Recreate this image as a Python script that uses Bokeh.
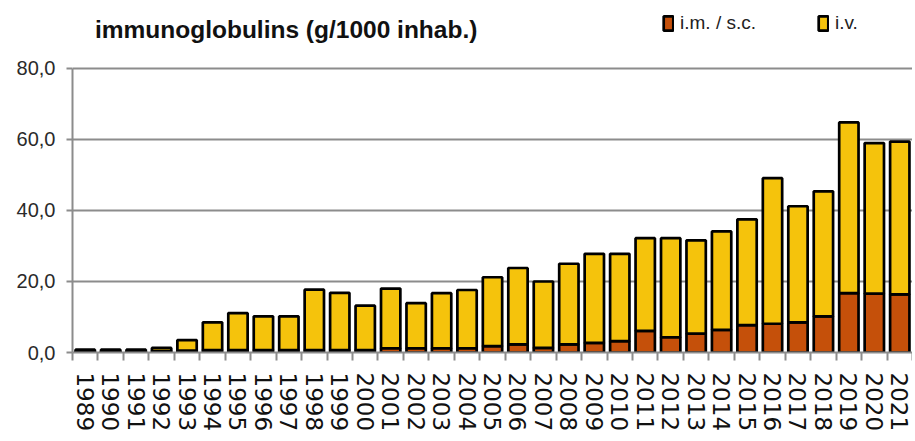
from bokeh.plotting import figure
from bokeh.models import FixedTicker, Range1d, Label, Legend, LegendItem, ColumnDataSource
from bokeh.embed import file_html
from bokeh.resources import INLINE

years = ["1989", "1990", "1991", "1992", "1993", "1994", "1995", "1996", "1997", "1998",
         "1999", "2000", "2001", "2002", "2003", "2004", "2005", "2006", "2007", "2008",
         "2009", "2010", "2011", "2012", "2013", "2014", "2015", "2016", "2017", "2018",
         "2019", "2020", "2021"]
im_sc = [0.3, 0.3, 0.3, 0.4, 0.5, 0.7, 0.7, 0.7, 0.7, 0.7,
         0.7, 0.7, 1.2, 1.2, 1.2, 1.2, 1.8, 2.3, 1.3, 2.3,
         2.7, 3.2, 6.1, 4.3, 5.3, 6.4, 7.7, 8.1, 8.5, 10.2,
         16.7, 16.6, 16.4]
iv = [0.5, 0.5, 0.5, 0.9, 3.0, 7.8, 10.4, 9.5, 9.5, 17.0,
      16.1, 12.5, 16.8, 12.7, 15.5, 16.4, 19.4, 21.5, 18.7, 22.7,
      25.1, 24.6, 26.1, 27.9, 26.3, 27.7, 29.8, 41.0, 32.7, 35.2,
      48.1, 42.4, 43.0]
y_ticks = [0, 20, 40, 60, 80]
y_tick_labels = ["0,0", "20,0", "40,0", "60,0", "80,0"]
title_text = "immunoglobulins (g/1000 inhab.)"
series_names = ["i.m. / s.c.", "i.v."]
colors = ["#C5500A", "#F5C30C"]

n = len(years)
pos = [i + 0.5 for i in range(n)]

p = figure(frame_width=840, frame_height=352, output_backend="svg", toolbar_location=None,
           x_range=Range1d(0, n), y_range=Range1d(0, 99.15),
           min_border_left=72, min_border_right=0, min_border_top=0, min_border_bottom=80)
p.outline_line_color = None
p.background_fill_color = "white"
p.border_fill_color = "white"

src = ColumnDataSource(dict(x=pos, im=im_sc, iv=iv))
rs = p.vbar_stack(["im", "iv"], x="x", width=0.76, color=colors, line_color="black",
                  line_width=2.7, source=src)

# axes
p.xgrid.grid_line_color = None
p.ygrid.grid_line_color = "#8c8c8c"
p.ygrid.grid_line_width = 2
p.ygrid.ticker = FixedTicker(ticks=y_ticks)

p.yaxis.ticker = FixedTicker(ticks=y_ticks)
p.yaxis.bounds = (0, 80)
p.yaxis.major_label_overrides = {t: l for t, l in zip(y_ticks, y_tick_labels)}
p.yaxis.axis_line_color = "#8c8c8c"
p.yaxis.axis_line_width = 2
p.yaxis.major_tick_line_color = "#8c8c8c"
p.yaxis.major_tick_line_width = 2
p.yaxis.major_tick_out = 6
p.yaxis.major_tick_in = 0
p.yaxis.minor_tick_line_color = None
p.yaxis.major_label_text_font = "Liberation Sans"
p.yaxis.major_label_text_font_size = "20px"
p.yaxis.major_label_text_color = "#2a2a2a"
p.yaxis.major_label_standoff = 11

p.xaxis.ticker = FixedTicker(ticks=pos, minor_ticks=list(range(n + 1)))
p.xaxis.major_label_overrides = {x: y for x, y in zip(pos, years)}
p.xaxis.major_label_orientation = "vertical"
p.xaxis.axis_line_color = "#8c8c8c"
p.xaxis.axis_line_width = 2
p.xaxis.major_tick_line_color = None
p.xaxis.major_tick_out = 0
p.xaxis.major_tick_in = 0
p.xaxis.minor_tick_line_color = "#8c8c8c"
p.xaxis.minor_tick_line_width = 2
p.xaxis.minor_tick_out = 8
p.xaxis.minor_tick_in = 0
p.xaxis.major_label_text_font = "DejaVu Sans"
p.xaxis.major_label_text_font_size = "23px"
p.xaxis.major_label_text_color = "#111111"
p.xaxis.major_label_standoff = 12

title = Label(x=0.88, y=90.9, text=title_text, text_font="Liberation Sans",
              text_font_style="bold", text_font_size="24.5px", text_color="#111111",
              text_baseline="alphabetic", text_align="left")
p.add_layout(title)

legend = Legend(items=[LegendItem(label=series_names[0], renderers=[rs[0]]),
                       LegendItem(label=series_names[1], renderers=[rs[1]])],
                orientation="horizontal", location=(590, 318),
                glyph_width=12, glyph_height=18, label_standoff=6, spacing=61,
                padding=0, margin=0, border_line_color=None, background_fill_alpha=0,
                label_text_font="Liberation Sans", label_text_font_size="19px",
                label_text_color="#222222")
p.add_layout(legend)

open("out.html", "w").write(file_html(p, INLINE))
